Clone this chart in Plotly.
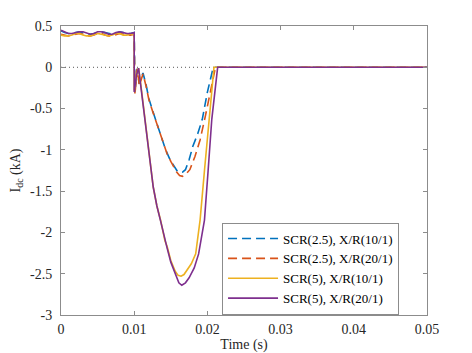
import plotly.graph_objects as go

# ---------------- data ----------------
t_pre = [0, 0.0005, 0.001, 0.0015, 0.002, 0.0025, 0.003, 0.0035, 0.004, 0.0045, 0.005,
         0.0055, 0.006, 0.0065, 0.007, 0.0075, 0.008, 0.0085, 0.009, 0.0095, 0.01]

blue_pre = [0.44, 0.42, 0.41, 0.41, 0.42, 0.43, 0.42, 0.41, 0.40, 0.41, 0.42,
            0.43, 0.42, 0.41, 0.40, 0.41, 0.43, 0.42, 0.41, 0.41, 0.42]
orange_pre = [0.40, 0.39, 0.38, 0.39, 0.40, 0.41, 0.40, 0.38, 0.38, 0.39, 0.41,
              0.41, 0.39, 0.38, 0.38, 0.40, 0.41, 0.40, 0.39, 0.39, 0.40]
yellow_pre = [0.39, 0.38, 0.38, 0.39, 0.41, 0.41, 0.39, 0.38, 0.38, 0.40, 0.41,
              0.40, 0.39, 0.38, 0.39, 0.41, 0.41, 0.39, 0.39, 0.40, 0.40]
purple_pre = [0.45, 0.43, 0.41, 0.41, 0.42, 0.43, 0.43, 0.41, 0.40, 0.41, 0.43,
              0.43, 0.42, 0.40, 0.40, 0.42, 0.43, 0.42, 0.41, 0.41, 0.42]

blue_t = [0.0101, 0.0104, 0.0107, 0.0112, 0.0116, 0.0120, 0.0125, 0.0129, 0.0137, 0.0143,
          0.0149, 0.0153, 0.0156, 0.0159, 0.0162, 0.0166, 0.0170, 0.0175, 0.0180, 0.0187,
          0.0193, 0.0200, 0.0208, 0.05]
blue_y = [-0.30, -0.02, -0.20, -0.07, -0.20, -0.38, -0.52, -0.63, -0.86, -1.00,
          -1.12, -1.18, -1.23, -1.26, -1.27, -1.27, -1.24, -1.12, -0.96, -0.80,
          -0.63, -0.30, 0, 0]

orange_t = [0.0101, 0.0104, 0.0107, 0.0112, 0.0116, 0.0120, 0.0125, 0.0129, 0.0140, 0.0145,
            0.0150, 0.0154, 0.0158, 0.0162, 0.0166, 0.0170, 0.0176, 0.0183, 0.0190, 0.0197,
            0.0204, 0.0211, 0.05]
orange_y = [-0.33, -0.02, -0.22, -0.08, -0.22, -0.39, -0.53, -0.64, -0.93, -1.05,
            -1.14, -1.21, -1.27, -1.31, -1.32, -1.30, -1.24, -1.08, -0.88, -0.60,
            -0.29, 0, 0]

yellow_t = [0.0100, 0.0103, 0.0106, 0.0110, 0.0115, 0.0120, 0.0126, 0.0131, 0.0136, 0.0142,
            0.0145, 0.0150, 0.0156, 0.0160, 0.0164, 0.0168, 0.0172, 0.0178, 0.0184, 0.0190,
            0.0196, 0.0202, 0.0209, 0.05]
yellow_y = [-0.28, -0.10, -0.01, -0.28, -0.63, -1.02, -1.45, -1.68, -1.85, -2.10,
            -2.17, -2.34, -2.47, -2.52, -2.53, -2.51, -2.46, -2.38, -2.26, -1.85,
            -1.25, -0.63, 0, 0]

purple_t = [0.0100, 0.0103, 0.0106, 0.0110, 0.0115, 0.0120, 0.0126, 0.0131, 0.0136, 0.0141,
            0.0145, 0.0150, 0.0157, 0.0161, 0.0165, 0.0170, 0.0175, 0.0182, 0.0188, 0.0196,
            0.0201, 0.0206, 0.0214, 0.05]
purple_y = [-0.30, -0.10, -0.01, -0.28, -0.63, -1.02, -1.45, -1.68, -1.86, -2.06,
            -2.19, -2.36, -2.52, -2.61, -2.64, -2.61, -2.55, -2.43, -2.26, -1.85,
            -1.25, -0.63, 0, 0]

names = ["SCR(2.5), X/R(10/1)", "SCR(2.5), X/R(20/1)", "SCR(5), X/R(10/1)", "SCR(5), X/R(20/1)"]
colors = ["#0072BD", "#D95319", "#EDB120", "#7E2F8E"]
dashes = ["9px,5px", "9px,5px", "solid", "solid"]

x_ticks = [0, 0.01, 0.02, 0.03, 0.04, 0.05]
x_tick_text = ["0", "0.01", "0.02", "0.03", "0.04", "0.05"]
y_ticks = [0.5, 0, -0.5, -1, -1.5, -2, -2.5, -3]
y_tick_text = ["0.5", "0", "-0.5", "-1", "-1.5", "-2", "-2.5", "-3"]

# ---------------- figure ----------------
series = [
    (t_pre + blue_t, blue_pre + blue_y),
    (t_pre + orange_t, orange_pre + orange_y),
    (t_pre + yellow_t, yellow_pre + yellow_y),
    (t_pre + purple_t, purple_pre + purple_y),
]

fig = go.Figure()
for (xs, ys), nm, c, d in zip(series, names, colors, dashes):
    fig.add_trace(go.Scatter(x=xs, y=ys, mode="lines", name=nm,
                             line=dict(color=c, width=1.6, dash=d)))

fig.add_shape(type="line", xref="x", yref="y", x0=0, x1=0.05, y0=0, y1=0,
              line=dict(color="#555555", width=1, dash="1px,3px"), layer="below")

FONT = "Times New Roman"
tick_font = dict(family=FONT, size=14, color="#262626")

fig.update_layout(
    template="none",
    width=472, height=353,
    margin=dict(l=61, r=45, t=26, b=38),
    paper_bgcolor="white", plot_bgcolor="white",
    font=dict(family=FONT, size=14, color="#262626"),
    xaxis=dict(range=[0, 0.05], tickmode="array", tickvals=x_ticks, ticktext=x_tick_text,
               ticklabelstandoff=1, showline=True, linecolor="#8c8c8c", linewidth=1,
               mirror="ticks", ticks="inside", ticklen=4, tickcolor="#8c8c8c",
               showgrid=False, zeroline=False, tickfont=tick_font,
               title=dict(text="Time (s)", standoff=10, font=dict(family=FONT, size=14))),
    yaxis=dict(range=[-3, 0.5], tickmode="array", tickvals=y_ticks, ticktext=y_tick_text,
               ticklabelstandoff=5, showline=True, linecolor="#8c8c8c", linewidth=1,
               mirror="ticks", ticks="inside", ticklen=4, tickcolor="#8c8c8c",
               showgrid=False, zeroline=False, tickfont=tick_font,
               title=dict(text="I<sub>dc</sub> (kA)", standoff=6,
                          font=dict(family=FONT, size=14))),
    legend=dict(x=0.44, y=0.32, xanchor="left", yanchor="top",
                bgcolor="white", bordercolor="#8c8c8c", borderwidth=1,
                font=dict(family=FONT, size=13, color="#000000"),
                itemwidth=50, tracegroupgap=0),
    showlegend=True,
)

fig.write_html("out.html")
